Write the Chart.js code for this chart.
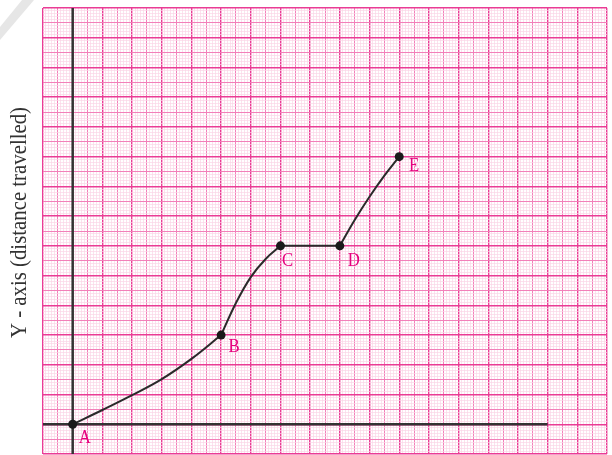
<!DOCTYPE html>
<html><head><meta charset="utf-8">
<script src="https://cdn.jsdelivr.net/npm/chart.js@4.4.1/dist/chart.umd.min.js"></script>
<style>html,body{margin:0;padding:0;background:#fff;} #wrap{position:relative;width:612px;height:455px;} canvas{display:block;}</style>
</head><body><div id="wrap"><canvas id="c" width="612" height="455"></canvas></div>
<script>
// ---- data ----
const yAxisTitle = 'Y - axis (distance travelled)';
const pointNames = ['A', 'B', 'C', 'D', 'E'];
const pointX = [0, 5, 7, 9, 11];
const pointY = [0, 3, 6, 6, 9];
const curveABx = [0, 1, 2, 3, 4, 5];
const curveABy = [0, 0.48, 0.98, 1.52, 2.2, 3];
const curveBCx = [5, 5.5, 6, 6.5, 7];
const curveBCy = [3, 4.08, 4.95, 5.56, 6];
const curveCDx = [7, 9];
const curveCDy = [6, 6];
const curveDEx = [9, 9.5, 10, 10.5, 11];
const curveDEy = [6, 6.87, 7.65, 8.36, 9];
const xAxisLineX = [-1, 16];
const xAxisLineY = [0, 0];
const yAxisLineX = [0, 0];
const yAxisLineY = [-1, 14];
const xRange = [-1, 18];
const yRange = [-1, 14];

// ---- styles ----
const labelDX = [12, 13, 7, 14, 15];
const labelDY = [12, 10, 14, 14, 8];
const MAJOR = '#ea3c95', MED = '#f280b9', MINOR = '#fad5e7';
const INK = '#2a2a2a', PINK = '#e6007e';

const zip = (xs, ys) => xs.map((v, i) => ({x: v, y: ys[i]}));
function gridColor(c) { const k = Math.round(c.tick.value * 10); if (k % 10 === 0) return MAJOR; if (k % 5 === 0) return MED; return MINOR; }
function gridWidth(c) { const k = Math.round(c.tick.value * 10); if (k % 10 === 0) return 1.4; if (k % 5 === 0) return 1; return 0.7; }

const curveStyle = {borderColor: INK, borderWidth: 2, pointRadius: 0, tension: 0.4, showLine: true, fill: false, order: 2};

const bgPlugin = {
  id: 'bg',
  beforeDraw(chart) {
    const ctx = chart.ctx;
    ctx.save();
    ctx.fillStyle = '#fff';
    ctx.fillRect(0, 0, chart.width, chart.height);
    ctx.fillStyle = '#e6e6e6';
    ctx.beginPath();
    ctx.moveTo(22, 0); ctx.lineTo(34, 0); ctx.lineTo(0, 40); ctx.lineTo(0, 27); ctx.closePath();
    ctx.fill();
    ctx.restore();
  },
  afterDraw(chart) {
    const ctx = chart.ctx;
    ctx.save();
    ctx.font = '23px "Liberation Serif"';
    const w = ctx.measureText(yAxisTitle).width;
    ctx.translate(20, 222.5);
    ctx.rotate(-Math.PI / 2);
    ctx.scale(231 / w, 1);
    ctx.fillStyle = '#333';
    ctx.textAlign = 'center';
    ctx.textBaseline = 'middle';
    ctx.fillText(yAxisTitle, 0, 0);
    ctx.restore();
  }
};
const labelPlugin = {
  id: 'ptlabels',
  afterDatasetsDraw(chart) {
    const {ctx, scales: {x, y}} = chart;
    pointNames.forEach((n, i) => {
      ctx.save();
      ctx.fillStyle = PINK;
      ctx.font = '19px "Liberation Serif"';
      ctx.textAlign = 'center';
      ctx.textBaseline = 'alphabetic';
      ctx.translate(x.getPixelForValue(pointX[i]) + labelDX[i], y.getPixelForValue(pointY[i]) + labelDY[i] + 6.5);
      ctx.scale(0.88, 1);
      ctx.fillText(n, 0, 0);
      ctx.restore();
    });
  }
};

new Chart(document.getElementById('c'), {
  type: 'scatter',
  data: {
    datasets: [
      {data: zip(xAxisLineX, xAxisLineY), showLine: true, borderColor: '#333', borderWidth: 2.5, pointRadius: 0, order: 5},
      {data: zip(yAxisLineX, yAxisLineY), showLine: true, borderColor: '#333', borderWidth: 2.5, pointRadius: 0, order: 5},
      Object.assign({data: zip(curveABx, curveABy)}, curveStyle),
      Object.assign({data: zip(curveBCx, curveBCy)}, curveStyle),
      Object.assign({data: zip(curveCDx, curveCDy)}, curveStyle),
      Object.assign({data: zip(curveDEx, curveDEy)}, curveStyle),
      {data: zip(pointX, pointY), showLine: false, pointRadius: 4.5, pointBackgroundColor: '#1a1a1a', pointBorderColor: '#1a1a1a', pointBorderWidth: 0, order: 0}
    ]
  },
  options: {
    responsive: false,
    devicePixelRatio: 1,
    animation: false,
    layout: {autoPadding: false, padding: {left: 43, top: 8, right: 5, bottom: 1}},
    plugins: {legend: {display: false}, tooltip: {enabled: false}},
    scales: {
      x: {type: 'linear', min: xRange[0], max: xRange[1],
          ticks: {display: false, stepSize: 0.1, autoSkip: false},
          grid: {color: gridColor, lineWidth: gridWidth, drawTicks: false},
          border: {display: false}},
      y: {type: 'linear', min: yRange[0], max: yRange[1],
          ticks: {display: false, stepSize: 0.1, autoSkip: false},
          grid: {color: gridColor, lineWidth: gridWidth, drawTicks: false},
          border: {display: false}}
    }
  },
  plugins: [bgPlugin, labelPlugin]
});
</script></body></html>
